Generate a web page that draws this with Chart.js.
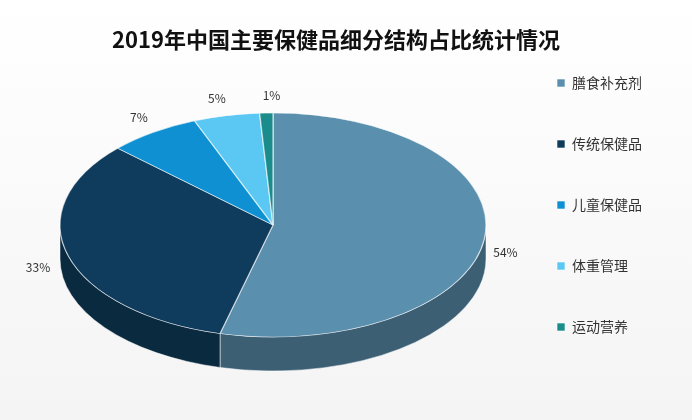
<!DOCTYPE html>
<html>
<head>
<meta charset="utf-8">
<script src="https://cdn.jsdelivr.net/npm/chart.js@4/dist/chart.umd.min.js"></script>
<style>
  body { margin: 0; background: #fff; }
  #wrap { width: 692px; height: 420px; position: relative; background: linear-gradient(#ffffff, #f4f4f4); }
</style>
</head>
<body>
<div id="wrap"><canvas id="pie"></canvas></div>
<script>
// Chart data
const categories = ['膳食补充剂', '传统保健品', '儿童保健品', '体重管理', '运动营养'];
const shares = [54, 33, 7, 5, 1];
const topColors = ['#5b8fae', '#0f3c5c', '#0e90d2', '#5ac8f2', '#1a8c8c'];
const sideColors = ['#3c5f74', '#0a2a40', '#096a9c', '#3f96b5', '#126464'];

// 3D look: ellipse centre, radii and thickness
const cx = 273, cy = 225, rx = 213, ry = 112, depth = 34;

function toScreen(el) {
    return { sx: rx / el.outerRadius, sy: ry / el.outerRadius };
}

const tiltPlugin = {
    id: 'tilt',
    beforeDatasetsDraw(chart) {
        const ctx = chart.ctx;
        const arcs = chart.getDatasetMeta(0).data;
        // side walls, only the front half is visible
        arcs.forEach((el, i) => {
            let a0 = Math.max(el.startAngle, 0);
            let a1 = Math.min(el.endAngle, Math.PI);
            if (a1 <= a0) return;
            ctx.save();
            ctx.beginPath();
            ctx.ellipse(cx, cy, rx, ry, 0, a0, a1);
            ctx.ellipse(cx, cy + depth, rx, ry, 0, a1, a0, true);
            ctx.closePath();
            ctx.fillStyle = sideColors[i];
            ctx.fill();
            ctx.strokeStyle = 'rgba(255,255,255,0.5)';
            ctx.lineWidth = 1;
            ctx.stroke();
            ctx.restore();
        });
        const el = arcs[0];
        const s = toScreen(el);
        ctx.save();
        ctx.translate(cx, cy);
        ctx.scale(s.sx, s.sy);
        ctx.translate(-el.x, -el.y);
    },
    afterDatasetsDraw(chart) {
        const ctx = chart.ctx;
        ctx.restore();
        // percentage labels
        const arcs = chart.getDatasetMeta(0).data;
        ctx.save();
        ctx.font = '12px "Noto Sans CJK SC", sans-serif';
        ctx.fillStyle = '#333';
        ctx.textAlign = 'center';
        ctx.textBaseline = 'middle';
        const offs = [[0, 12], [-10, 8], [0, -4], [0, -4], [0, -4]];
        arcs.forEach((el, i) => {
            const mid = (el.startAngle + el.endAngle) / 2;
            const k = i < 2 ? 1.1 : 1.12;
            let x = cx + Math.cos(mid) * rx * k + offs[i][0];
            let y = cy + Math.sin(mid) * ry * k + offs[i][1];
            if (i === 4) x += 6;
            if (i === 3) x -= 4;
            ctx.fillText(shares[i] + '%', x, y);
        });
        ctx.restore();
    }
};

new Chart(document.getElementById('pie'), {
    type: 'pie',
    data: {
        labels: categories,
        datasets: [{
            data: shares,
            backgroundColor: topColors,
            borderColor: 'rgba(255,255,255,0.6)',
            borderWidth: 1
        }]
    },
    options: {
        responsive: true,
        maintainAspectRatio: false,
        animation: false,
        layout: { padding: { top: 10, right: 40, bottom: 20, left: 20 } },
        plugins: {
            title: {
                display: true,
                text: '2019年中国主要保健品细分结构占比统计情况',
                color: '#111',
                font: { size: 22, weight: 'bold', family: '"Noto Sans CJK SC", sans-serif' },
                padding: { top: 16, bottom: 30 }
            },
            legend: {
                position: 'right',
                labels: {
                    boxWidth: 8,
                    boxHeight: 8,
                    padding: 47,
                    color: '#333',
                    font: { size: 14, family: '"Noto Sans CJK SC", sans-serif' }
                }
            },
            tooltip: { enabled: false }
        }
    },
    plugins: [tiltPlugin]
});
</script>
</body>
</html>
